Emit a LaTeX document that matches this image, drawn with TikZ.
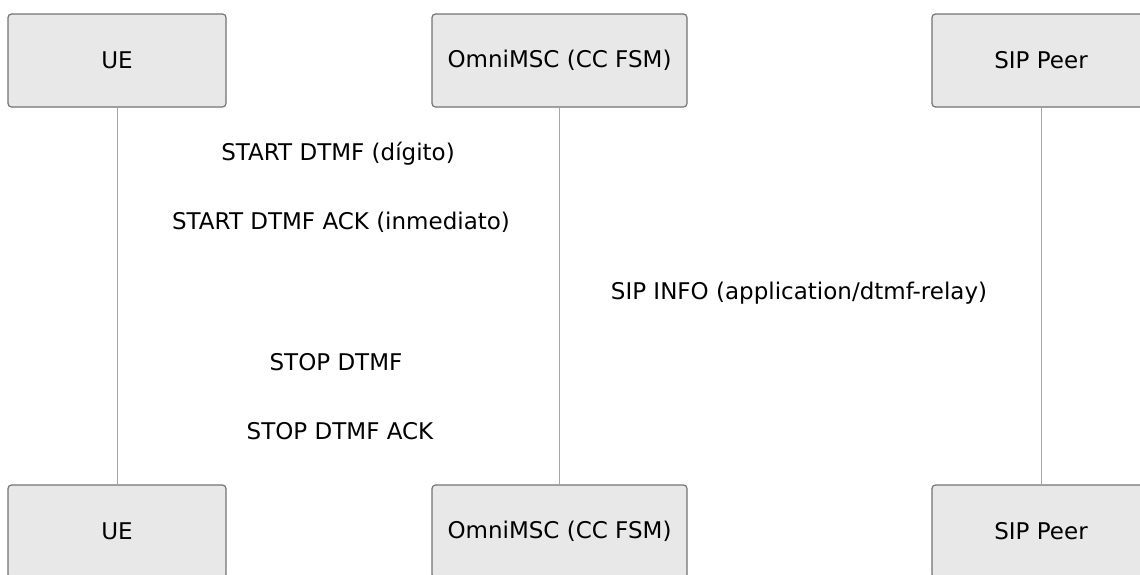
\documentclass[tikz,border=0pt]{standalone}
\usepackage{fontspec}
\setmainfont{DejaVu Sans}
\begin{document}
\begin{tikzpicture}[x=1pt,y=-1pt,
  actor/.style={draw=black!55,fill=black!9,line width=1.2pt,rounded corners=3.5pt,
    minimum width=218pt,minimum height=93pt,inner sep=0pt,font=\fontsize{23}{27}\selectfont},
  life/.style={draw=black!35,line width=0.9pt},
  msg/.style={inner sep=0pt,font=\fontsize{23}{27}\selectfont}]
\useasboundingbox (0,0) rectangle (1140,574);
\clip (0,0) rectangle (1140,574);
\node[actor] (ueT) at (117,60.5) {UE};
\node[actor,minimum width=255pt] (msT) at (559.5,60.5) {OmniMSC (CC FSM)};
\node[actor] (sipT) at (1041,60.5) {SIP Peer};
\node[actor] (ueB) at (117,531.5) {UE};
\node[actor,minimum width=255pt] (msB) at (559.5,531.5) {OmniMSC (CC FSM)};
\node[actor] (sipB) at (1041,531.5) {SIP Peer};
\draw[life] (ueT) -- (ueB);
\draw[life] (msT) -- (msB);
\draw[life] (sipT) -- (sipB);
\node[msg] (m1) at (338,154) {START DTMF (dígito)};
\node[msg] (m2) at (341,222) {START DTMF ACK (inmediato)};
\node[msg] (m3) at (799,293) {SIP INFO (application/dtmf-relay)};
\node[msg] (m4) at (336,362) {STOP DTMF};
\node[msg] (m5) at (340,431) {STOP DTMF ACK};
\end{tikzpicture}
\end{document}
